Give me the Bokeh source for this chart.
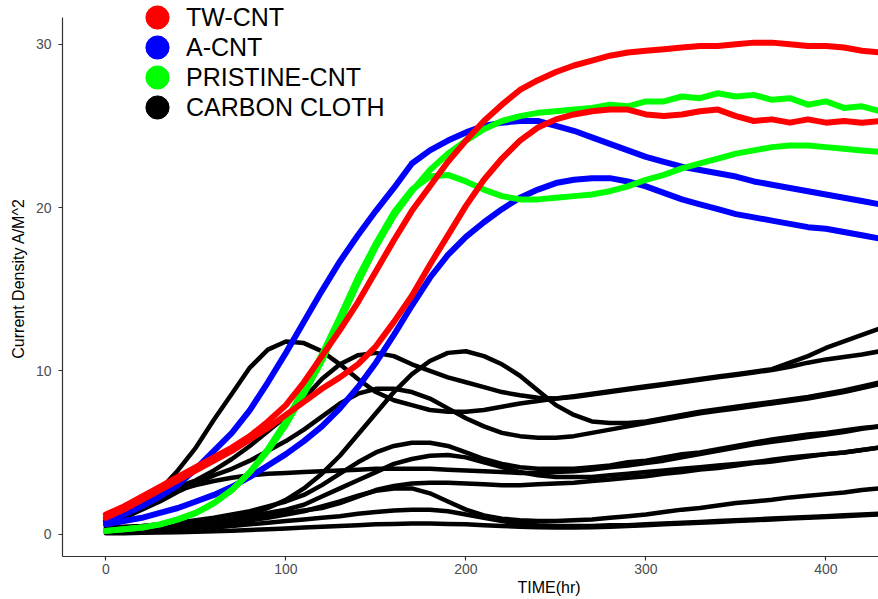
from bokeh.plotting import figure
from bokeh.models import Legend, LegendItem, Range1d, FixedTicker, Title
from bokeh.embed import file_html
from bokeh.resources import INLINE

# ---------------- data ----------------
time_hr = [0, 10, 20, 30, 40, 50, 60, 70, 80, 90, 100, 110, 120, 130, 140, 150,
           160, 170, 180, 190, 200, 210, 220, 230, 240, 250, 260, 270, 280, 290,
           300, 310, 320, 330, 340, 350, 360, 370, 380, 390, 400, 410, 420, 430]

series_names = ["TW-CNT", "A-CNT", "PRISTINE-CNT", "CARBON CLOTH"]
series_colors = ["#FF0000", "#0000FF", "#00FF00", "#000000"]

tw_cnt_1 = [1.2, 1.7, 2.3, 2.9, 3.5, 4.1, 4.7, 5.3, 6.0, 6.9, 7.9, 9.3, 10.9, 12.5, 14.2, 16.1,
            18.0, 19.8, 21.3, 22.8, 24.1, 25.3, 26.3, 27.2, 27.8, 28.3, 28.7, 29.0, 29.3, 29.5,
            29.6, 29.7, 29.8, 29.9, 29.9, 30.0, 30.1, 30.1, 30.0, 29.9, 29.9, 29.8, 29.6, 29.5]
tw_cnt_2 = [1.0, 1.5, 2.1, 2.7, 3.3, 3.9, 4.5, 5.1, 5.8, 6.5, 7.3, 8.1, 8.9, 9.6, 10.4, 11.5,
            13.0, 14.6, 16.5, 18.3, 20.1, 21.7, 23.0, 24.1, 24.9, 25.4, 25.7, 25.9, 26.0, 26.0,
            25.7, 25.6, 25.7, 25.9, 26.0, 25.6, 25.3, 25.4, 25.2, 25.4, 25.2, 25.3, 25.2, 25.3]

a_cnt_1 = [0.8, 1.2, 1.7, 2.3, 3.0, 4.0, 5.1, 6.2, 7.6, 9.3, 11.1, 13.0, 14.9, 16.7, 18.3, 19.8,
           21.2, 22.7, 23.5, 24.1, 24.6, 25.0, 25.2, 25.3, 25.3, 25.0, 24.7, 24.3, 23.9, 23.5,
           23.1, 22.8, 22.5, 22.3, 22.1, 21.9, 21.6, 21.4, 21.2, 21.0, 20.8, 20.6, 20.4, 20.2]
a_cnt_2 = [0.6, 0.8, 1.0, 1.3, 1.6, 2.0, 2.4, 2.9, 3.5, 4.2, 4.9, 5.7, 6.6, 7.7, 9.0, 10.5,
           12.2, 14.0, 15.7, 17.1, 18.2, 19.1, 19.9, 20.6, 21.1, 21.5, 21.7, 21.8, 21.8, 21.6,
           21.3, 20.9, 20.5, 20.2, 19.9, 19.6, 19.4, 19.2, 19.0, 18.8, 18.7, 18.5, 18.3, 18.1]

pristine_cnt_1 = [0.2, 0.3, 0.4, 0.6, 0.9, 1.3, 1.9, 2.7, 3.8, 5.1, 6.7, 8.6, 10.6, 13.0, 15.4, 17.6,
                  19.5, 21.0, 22.3, 23.3, 24.1, 24.8, 25.3, 25.6, 25.8, 25.9, 26.0, 26.1, 26.3, 26.2,
                  26.5, 26.5, 26.8, 26.7, 27.0, 26.8, 26.9, 26.6, 26.7, 26.3, 26.5, 26.1, 26.2, 25.9]
pristine_cnt_2 = [0.2, 0.3, 0.4, 0.6, 0.9, 1.3, 1.9, 2.7, 3.8, 5.2, 6.9, 8.9, 11.0, 13.3, 15.7, 17.8,
                  19.7, 21.1, 21.9, 22.0, 21.6, 21.1, 20.7, 20.5, 20.5, 20.6, 20.7, 20.8, 21.0, 21.3,
                  21.7, 22.0, 22.4, 22.7, 23.0, 23.3, 23.5, 23.7, 23.8, 23.8, 23.7, 23.6, 23.5, 23.4]

carbon_cloth_1 = [0.5, 0.9, 1.6, 2.7, 3.9, 5.3, 7.0, 8.6, 10.2, 11.3, 11.8, 11.7, 11.2, 10.4, 9.5, 8.7,
                  8.2, 7.9, 7.6, 7.5, 7.5, 7.6, 7.8, 8.0, 8.15, 8.3, 8.45, 8.6, 8.75, 8.9,
                  9.05, 9.2, 9.35, 9.5, 9.65, 9.8, 9.95, 10.1, 10.5, 10.9, 11.4, 11.8, 12.2, 12.6]
carbon_cloth_2 = [0.7, 1.2, 1.8, 2.4, 2.9, 3.3, 3.9, 4.6, 5.4, 6.3, 7.2, 8.3, 9.5, 10.4, 10.95, 11.1,
                  10.9, 10.4, 10.0, 9.6, 9.3, 9.0, 8.7, 8.5, 8.35, 8.3, 8.4, 8.55, 8.7, 8.85,
                  9.0, 9.15, 9.3, 9.45, 9.6, 9.75, 9.9, 10.05, 10.25, 10.5, 10.7, 10.85, 11.0, 11.2]
carbon_cloth_3 = [0.3, 0.3, 0.35, 0.4, 0.5, 0.6, 0.75, 0.95, 1.2, 1.6, 2.1, 2.8, 3.7, 4.8, 6.1, 7.4,
                  8.7, 9.8, 10.6, 11.1, 11.2, 10.9, 10.4, 9.7, 8.8, 7.9, 7.3, 6.9, 6.8, 6.8,
                  6.9, 7.1, 7.3, 7.5, 7.65, 7.8, 7.95, 8.1, 8.25, 8.4, 8.6, 8.8, 9.05, 9.3]
carbon_cloth_4 = [0.6, 1.0, 1.5, 2.0, 2.6, 3.1, 3.6, 4.0, 4.5, 5.1, 5.7, 6.4, 7.2, 8.0, 8.6, 8.9,
                  8.9, 8.7, 8.3, 7.7, 7.1, 6.6, 6.2, 6.0, 5.9, 5.9, 6.0, 6.2, 6.4, 6.6,
                  6.8, 7.0, 7.2, 7.4, 7.55, 7.7, 7.85, 8.0, 8.15, 8.3, 8.5, 8.7, 8.95, 9.2]
carbon_cloth_5 = [0.7, 1.3, 1.8, 2.3, 2.7, 3.0, 3.25, 3.45, 3.6, 3.7, 3.75, 3.8, 3.85, 3.9, 3.95, 4.0,
                  4.0, 4.0, 4.0, 3.95, 3.9, 3.85, 3.8, 3.75, 3.75, 3.8, 3.85, 3.95, 4.1, 4.2,
                  4.35, 4.5, 4.7, 4.9, 5.1, 5.3, 5.5, 5.65, 5.8, 5.95, 6.1, 6.25, 6.45, 6.6]
carbon_cloth_6 = [0.4, 0.45, 0.5, 0.6, 0.7, 0.85, 1.0, 1.2, 1.4, 1.7, 2.0, 2.4, 3.0, 3.7, 4.4, 5.0,
                  5.4, 5.6, 5.6, 5.4, 5.0, 4.6, 4.3, 4.1, 4.0, 4.0, 4.0, 4.1, 4.2, 4.4,
                  4.5, 4.7, 4.9, 5.0, 5.2, 5.4, 5.6, 5.8, 5.95, 6.1, 6.2, 6.35, 6.5, 6.6]
carbon_cloth_7 = [0.3, 0.3, 0.35, 0.4, 0.5, 0.6, 0.75, 0.9, 1.1, 1.3, 1.5, 1.8, 2.3, 2.8, 3.3, 3.8,
                  4.3, 4.6, 4.8, 4.85, 4.7, 4.4, 4.1, 3.8, 3.6, 3.5, 3.5, 3.5, 3.6, 3.7,
                  3.8, 3.9, 4.0, 4.1, 4.2, 4.3, 4.4, 4.55, 4.7, 4.8, 4.9, 5.0, 5.15, 5.3]
carbon_cloth_8 = [0.3, 0.3, 0.35, 0.4, 0.5, 0.6, 0.7, 0.85, 1.0, 1.15, 1.3, 1.45, 1.6, 1.9, 2.3, 2.7,
                  2.95, 3.1, 3.15, 3.15, 3.1, 3.05, 3.0, 3.0, 3.05, 3.1, 3.15, 3.25, 3.35, 3.45,
                  3.55, 3.7, 3.8, 3.95, 4.05, 4.2, 4.35, 4.45, 4.6, 4.75, 4.9, 5.0, 5.15, 5.3]
carbon_cloth_9 = [0.2, 0.2, 0.25, 0.3, 0.35, 0.45, 0.55, 0.7, 0.85, 1.0, 1.2, 1.4, 1.7, 2.0, 2.35, 2.65,
                  2.8, 2.8, 2.5, 2.0, 1.5, 1.15, 0.95, 0.85, 0.8, 0.8, 0.85, 0.9, 1.0, 1.1,
                  1.2, 1.35, 1.5, 1.6, 1.75, 1.9, 2.0, 2.1, 2.25, 2.35, 2.45, 2.55, 2.7, 2.8]
carbon_cloth_10 = [0.1, 0.1, 0.15, 0.2, 0.25, 0.3, 0.4, 0.5, 0.6, 0.7, 0.8, 0.9, 1.0, 1.1, 1.25, 1.35,
                   1.45, 1.5, 1.5, 1.4, 1.2, 1.0, 0.8, 0.65, 0.55, 0.5, 0.5, 0.5, 0.55, 0.55,
                   0.6, 0.65, 0.7, 0.75, 0.8, 0.85, 0.9, 0.95, 1.0, 1.05, 1.1, 1.15, 1.2, 1.25]
carbon_cloth_11 = [0.05, 0.05, 0.08, 0.1, 0.12, 0.15, 0.18, 0.2, 0.25, 0.3, 0.35, 0.4, 0.45, 0.5, 0.55, 0.6,
                   0.62, 0.65, 0.65, 0.62, 0.6, 0.55, 0.5, 0.45, 0.42, 0.4, 0.4, 0.42, 0.45, 0.5,
                   0.55, 0.6, 0.65, 0.7, 0.75, 0.8, 0.85, 0.9, 0.95, 1.0, 1.05, 1.1, 1.15, 1.2]

x_ticks = [0, 100, 200, 300, 400]
y_ticks = [0, 10, 20, 30]
x_label = "TIME(hr)"
y_label = "Current Density A/M^2"

groups = {
    "TW-CNT": [tw_cnt_1, tw_cnt_2],
    "A-CNT": [a_cnt_1, a_cnt_2],
    "PRISTINE-CNT": [pristine_cnt_1, pristine_cnt_2],
    "CARBON CLOTH": [carbon_cloth_1, carbon_cloth_2, carbon_cloth_3, carbon_cloth_4,
                     carbon_cloth_5, carbon_cloth_6, carbon_cloth_7, carbon_cloth_8,
                     carbon_cloth_9, carbon_cloth_10, carbon_cloth_11],
}
color_of = dict(zip(series_names, series_colors))

# ---------------- figure ----------------
FONT = "Liberation Sans"
Y_LO, Y_HI, Y_AXIS_TOP = -1.37, 32.68, 31.63
p = figure(width=878, height=599, output_backend="svg", toolbar_location=None,
           x_range=Range1d(-24.1, 429.2), y_range=Range1d(Y_LO, Y_HI),
           min_border_left=62, min_border_right=0, min_border_top=0, min_border_bottom=43,
           background_fill_color="white", border_fill_color="white")
p.outline_line_color = None
p.xgrid.visible = False
p.ygrid.visible = False

for ax in (p.xaxis[0], p.yaxis[0]):
    ax.axis_line_color = "#333333"
    ax.axis_line_width = 1.2
    ax.major_tick_line_color = "#333333"
    ax.major_tick_line_width = 1.2
    ax.major_tick_out = 4
    ax.major_tick_in = 0
    ax.minor_tick_line_color = None
    ax.major_label_text_font = FONT
    ax.major_label_text_font_size = "14px"
    ax.major_label_text_color = "#4D4D4D"
p.xaxis.ticker = FixedTicker(ticks=x_ticks)
p.yaxis.ticker = FixedTicker(ticks=y_ticks)
p.yaxis.bounds = (Y_LO, Y_AXIS_TOP)
p.xaxis.major_label_standoff = 3
p.yaxis.major_label_standoff = 7
p.yaxis.axis_label = y_label
p.yaxis.axis_label_text_font = FONT
p.yaxis.axis_label_text_font_size = "16px"
p.yaxis.axis_label_text_font_style = "normal"
p.yaxis.axis_label_text_color = "black"
p.yaxis.axis_label_standoff = 6

# x-axis title below the axis, placed right of centre as in the (cropped) original
p.add_layout(Title(text=x_label, align="left", offset=455, standoff=0,
                   text_font=FONT, text_font_size="16px", text_font_style="normal",
                   text_color="black"), "below")

# lines: black first, then coloured
draw_order = ["CARBON CLOTH", "A-CNT", "PRISTINE-CNT", "TW-CNT"]
for name in draw_order:
    lw = 4.5 if name == "CARBON CLOTH" else 6
    for ys in groups[name]:
        p.line(time_hr[:len(ys)], ys, line_color=color_of[name], line_width=lw,
               line_join="round", line_cap="round")

# legend: one single-entry legend per group so that big round keys can sit 30px apart
GLYPH = 58          # marker legend key diameter = 0.4 * GLYPH
ROW_PITCH = 30
FIRST_CENTER = 17   # px from the top of the frame
for i, name in enumerate(series_names):
    ys = groups[name][0]
    r = p.scatter(time_hr, ys, marker="circle", size=10, fill_color=color_of[name],
                  line_color=color_of[name], visible=False)
    center = FIRST_CENTER + ROW_PITCH * i
    bottom_from_frame_bottom = 556 - (center + GLYPH // 2)
    leg = Legend(items=[LegendItem(label=name, renderers=[r])],
                 location=(66, bottom_from_frame_bottom), orientation="vertical",
                 glyph_width=GLYPH, glyph_height=GLYPH, spacing=0, label_standoff=0,
                 padding=0, margin=0, border_line_color=None, click_policy="none",
                 background_fill_alpha=0, label_text_font=FONT,
                 label_text_font_size="25px", label_text_color="black",
                 label_text_baseline="middle")
    p.add_layout(leg)

open("out.html", "w").write(file_html(p, INLINE))
